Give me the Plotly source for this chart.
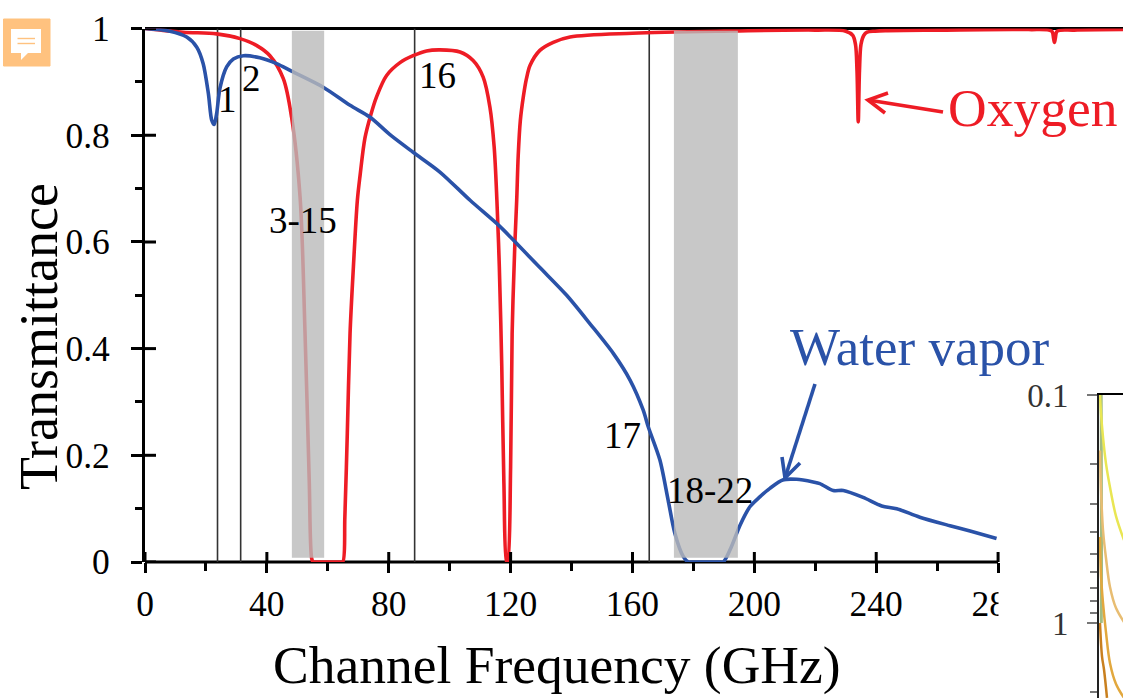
import plotly.graph_objects as go

W, H = 1123, 698

# ---- data ----
oxygen_freq = [0, 12.5, 23.5, 31.2, 36.7, 41, 45.4, 48.1, 50.9, 52.5, 53.9, 54.7, 55.2, 56, 64, 64.9, 65.6, 66.4, 67.3, 68.4,
               69.7, 70.6, 72.2, 74.1, 76, 79.3, 83.7, 88, 92.4, 96.8, 103.4, 107.7, 111, 113.2, 114.6, 115.5, 116.3,
               117.1, 117.8, 118.7, 119, 120, 120.5, 121.4, 122, 122.5, 123.2, 124.2, 125.2, 126.4, 129.6, 134, 139.5, 160, 190,
               220, 230, 232.3, 233.2, 233.7, 234.1, 234.5, 235, 235.9, 237, 239.6, 243, 260, 290, 297.6, 298.2, 298.5,
               298.8, 299.4, 305, 321]
oxygen_trans = [1, .993, .99, .981, .968, .949, .906, .834, .684, .434, .154, .007, 0, 0, 0, 0, .085, .241, .428, .553,
                .678, .725, .795, .838, .872, .912, .936, .949, .958, .96, .956, .94, .909, .853, .778, .678, .553,
                .366, .148, 0, 0, .178, .428, .597, .678, .762, .828, .873, .906, .931, .959, .974, .984, .991, .995,
                .997, .995, .987, .97, .92, .825, .92, .97, .987, .993, .995, .996, .997, .998, .995, .982, .974,
                .982, .995, .997, .998]

water_freq = [0, 8.2, 13.7, 17, 19.1, 20.8, 21.9, 22.7, 23.5, 24.6, 26.8, 29, 32.3, 37.7, 43.2, 48.1, 58.5, 67.3,
              73.8, 80.4, 88, 96.8, 106.7, 116.3, 122, 129.6, 138.4, 146, 153.7, 159.2, 163.5, 165.2, 169, 171.7,
              173.9, 176.7, 178.3, 179.5, 188.5, 189.8, 192.5, 195.3, 198.6, 201.8, 205.1, 209.5, 213.9, 219.3, 221.5, 225.9,
              229.2, 235.7, 241.8, 246.7, 254.3, 264.2, 270.8, 279.5]
water_trans = [1, .995, .984, .965, .934, .878, .828, .82, .84, .888, .928, .943, .949, .945, .934, .92, .89, .856,
               .834, .801, .768, .731, .678, .63, .597, .552, .5, .447, .391, .341, .285, .253, .191, .116,
               .054, .01, 0, 0, 0, 0, .029, .069, .104, .122, .138, .154, .155, .15, .147, .134,
               .134, .121, .105, .1, .084, .068, .058, .044]

channel_freqs = [23.8, 31.4, 88.5, 165.5]
band_ranges = [(48.2, 58.8), (173.6, 194.6)]
x_ticks = [0, 40, 80, 120, 160, 200, 240, 280]
x_minor_ticks = [20, 60, 100, 140, 180, 220, 260]
y_ticks = [0, 0.2, 0.4, 0.6, 0.8, 1]
y_tick_labels = ["0", "0.2", "0.4", "0.6", "0.8", "1"]

inset_x = [1, 2, 4, 7, 11, 17, 25]
inset_green = [.1, .16, .25, .4, .6, .8, 1.0]
inset_green_x = [2.2, 2.3, 2.4, 2.5, 2.5, 2.4, 2.3]
inset_yellow = [.1, .12, .153, .2, .254, .34, .433]
inset_light = [.175, .26, .391, .52, .695, .86, .99]
inset_orange = [.42, .62, .817, 1.1, 1.5, 1.85, 2.13]
inset_dark = [1.0, 1.4, 1.6, 2.13]
inset_dark_x = [1, 3, 5, 8]
inset_major = [0.1, 1]
inset_minor = [.2, .3, .4, .5, .6, .7, .8, .9, 2]

X_MAX = 321
X_AXIS_END = 280
RED = "#ee1c25"
BLUE = "#2a52a8"
SERIF = "Liberation Serif"
AXIS_BOTTOM_PX, AXIS_TOP_PX, AXIS_LEFT_PX = 562, 28.5, 145


def px(v):
    return v / W


def py(v):
    return 1 - v / H


fig = go.Figure()
fig.add_trace(go.Scatter(x=oxygen_freq, y=oxygen_trans, mode="lines", xaxis="x", yaxis="y", cliponaxis=False,
                         line=dict(color=RED, width=3.6, shape="spline", smoothing=0.9), name="Oxygen",
                         showlegend=False, hoverinfo="skip"))
fig.add_trace(go.Scatter(x=water_freq, y=water_trans, mode="lines", xaxis="x", yaxis="y", cliponaxis=False,
                         line=dict(color=BLUE, width=3.6, shape="spline", smoothing=0.8), name="Water vapor",
                         showlegend=False, hoverinfo="skip"))

for xs, ys, col, w in [(inset_green_x, inset_green, "rgba(130,165,90,0.75)", 3),
                       (inset_x, inset_yellow, "#e9e653", 2.5),
                       (inset_x, inset_light, "#e8bd72", 2.5),
                       (inset_x, inset_orange, "#e2a83e", 2.5),
                       (inset_dark_x, inset_dark, "#c9801f", 2.5)]:
    fig.add_trace(go.Scatter(x=xs, y=ys, mode="lines", xaxis="x4", yaxis="y4",
                             line=dict(color=col, width=w, shape="spline"), showlegend=False, hoverinfo="skip"))

shapes = []
# bottom axis line stops at the last labelled tick, top line runs to the page edge
shapes.append(dict(type="line", xref="x", yref="paper", x0=0, x1=X_AXIS_END, y0=py(AXIS_BOTTOM_PX),
                   y1=py(AXIS_BOTTOM_PX), layer="below", line=dict(color="black", width=3.2)))
shapes.append(dict(type="line", xref="x", yref="paper", x0=0, x1=X_MAX, y0=py(AXIS_TOP_PX), y1=py(AXIS_TOP_PX),
                   layer="below", line=dict(color="black", width=3.2)))
# inner half of the crossing major ticks
for t in x_ticks:
    shapes.append(dict(type="line", xref="x", yref="paper", x0=t, x1=t, y0=py(AXIS_BOTTOM_PX),
                       y1=py(AXIS_BOTTOM_PX - 10), layer="above", line=dict(color="black", width=3)))
for t in y_ticks:
    shapes.append(dict(type="line", xref="paper", yref="y", x0=px(AXIS_LEFT_PX), x1=px(AXIS_LEFT_PX + 11), y0=t, y1=t,
                       layer="above", line=dict(color="black", width=3)))
for f in channel_freqs:
    shapes.append(dict(type="line", xref="x", yref="y", x0=f, x1=f, y0=0, y1=1, layer="below",
                       line=dict(color="#333333", width=1.6)))
for a, b in band_ranges:
    shapes.append(dict(type="rect", xref="x", yref="y", x0=a, x1=b, y0=0.008, y1=0.996, layer="above",
                       fillcolor="rgba(186,186,186,0.8)", line=dict(width=0)))


def path(points, close=False):
    s = "M" + " L".join(f"{px(a):.5f},{py(b):.5f}" for a, b in points)
    return s + (" Z" if close else "")


def arrow(tail, tip, b1, b2, col):
    shapes.append(dict(type="path", xref="paper", yref="paper", layer="above", path=path([tail, tip]),
                       line=dict(color=col, width=3.6)))
    shapes.append(dict(type="path", xref="paper", yref="paper", layer="above", path=path([b1, tip, b2]),
                       line=dict(color=col, width=3.6)))


arrow((943, 112), (868, 100), (888, 93), (885, 113), RED)
arrow((815, 384), (785, 478), (782, 457), (800, 463), BLUE)

# hides the right part of the last tick label, as in the reference
shapes.append(dict(type="rect", xref="paper", yref="paper", layer="above", x0=px(998.5), x1=px(1032), y0=py(632),
                   y1=py(578), fillcolor="white", line=dict(width=0)))

# orange comment badge
shapes.append(dict(type="rect", xref="paper", yref="paper", layer="above", x0=px(3.5), x1=px(50), y0=py(66), y1=py(19),
                   fillcolor="#ffc27f", line=dict(color="#ffc27f", width=1)))
shapes.append(dict(type="path", xref="paper", yref="paper", layer="above",
                   path=path([(11, 29), (41, 29), (41, 53), (28, 53), (21, 60), (21, 53), (11, 53)], True),
                   fillcolor="white", line=dict(width=0)))
for yy in (38.5, 43.5):
    shapes.append(dict(type="line", xref="paper", yref="paper", layer="above", x0=px(17.5), x1=px(35), y0=py(yy),
                       y1=py(yy), line=dict(color="#ffc27f", width=1.4)))


def label(text, x, y, size=37, col="black", angle=0):
    return dict(text=text, xref="paper", yref="paper", x=px(x), y=py(y), xanchor="center", yanchor="middle",
                showarrow=False, textangle=angle, font=dict(family=SERIF, size=size, color=col))


annotations = [
    label("1", 227, 99), label("2", 252, 78), label("16", 437, 75), label("3-15", 303, 220),
    label("17", 622, 435), label("18-22", 710, 490),
    label("Oxygen", 1032, 108, 53.5, RED), label("Water vapor", 919, 347, 53, BLUE),
    label("Channel Frequency (GHz)", 557, 665, 53.5),
    label("Transmittance", 39, 337, 54, angle=-90),
]

tick_font = dict(family=SERIF, size=35.5, color="black")
main_dom_x = [px(AXIS_LEFT_PX), 1]
main_dom_y = [py(AXIS_BOTTOM_PX), py(AXIS_TOP_PX)]

fig.update_layout(
    width=W, height=H, margin=dict(l=0, r=0, t=0, b=0), paper_bgcolor="white", plot_bgcolor="rgba(0,0,0,0)",
    showlegend=False, shapes=shapes, annotations=annotations,
    xaxis=dict(domain=main_dom_x, range=[0, X_MAX], anchor="y", tickvals=x_ticks, ticks="outside", ticklen=10,
               tickwidth=3, tickcolor="black", showgrid=False, zeroline=False, showline=False,
               layer="below traces", tickfont=tick_font, ticklabelstandoff=0, automargin=False,
               minor=dict(tickvals=x_minor_ticks, ticks="outside", ticklen=8, tickwidth=3, tickcolor="black",
                          showgrid=False)),
    yaxis=dict(domain=main_dom_y, range=[0, 1], anchor="x", tickvals=y_ticks, ticktext=y_tick_labels, ticks="outside",
               ticklen=11, tickwidth=3, tickcolor="black", showgrid=False, zeroline=False, showline=True,
               linecolor="black", linewidth=3.2, layer="below traces", tickfont=tick_font, ticklabelstandoff=14,
               automargin=False,
               minor=dict(dtick=0.1, ticks="outside", ticklen=7, tickwidth=3, tickcolor="black", showgrid=False)),
    xaxis4=dict(domain=[px(1099), 1], range=[0, 24], anchor="y4", side="top", showline=True, linecolor="black",
                linewidth=2, showticklabels=False, ticks="", showgrid=False, zeroline=False, automargin=False),
    yaxis4=dict(domain=[0, py(395)], type="log", range=[0.329, -1], anchor="x4", tickvals=inset_major,
                ticktext=["0.1", "1"], ticks="outside", ticklen=10, tickwidth=1.5, tickcolor="#777777", showgrid=False,
                zeroline=False, showline=True, linecolor="#222222", linewidth=2, automargin=False,
                tickfont=dict(family=SERIF, size=33, color="#333333"), ticklabelstandoff=12,
                minor=dict(tickvals=inset_minor, ticks="outside", ticklen=7, tickwidth=1.5, tickcolor="#777777",
                           showgrid=False)),
)

fig.write_html("out.html", config=dict(displayModeBar=False),
               post_script="document.body.style.margin='0';document.body.style.overflow='hidden';")
